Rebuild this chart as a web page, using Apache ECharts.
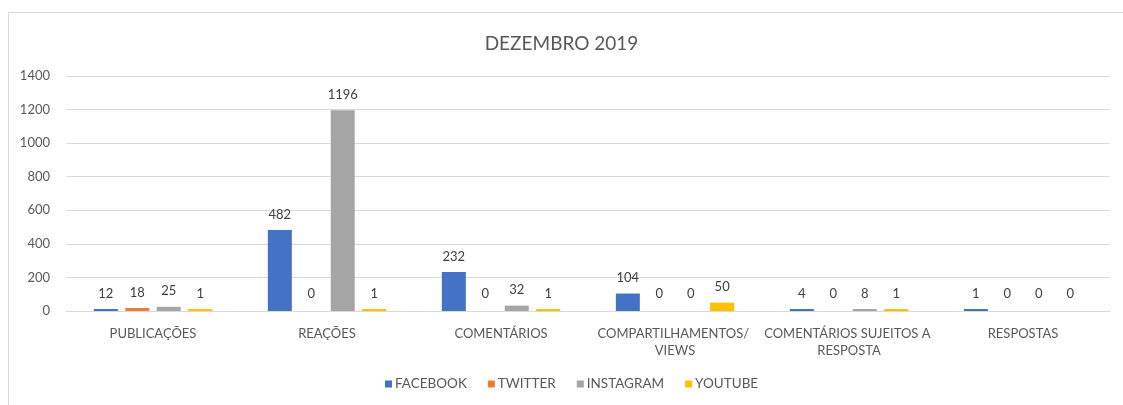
<!DOCTYPE html>
<html>
<head>
<meta charset="utf-8">
<script src="https://cdn.jsdelivr.net/npm/echarts@6/dist/echarts.min.js"></script>
<style>
html,body{margin:0;padding:0;background:#fff;}
#c{width:1123px;height:405px;}
</style>
</head>
<body>
<div id="c"></div>
<script>
const title = "DEZEMBRO 2019";
const categories = ["PUBLICAÇÕES", "REAÇÕES", "COMENTÁRIOS", "COMPARTILHAMENTOS/ VIEWS", "COMENTÁRIOS SUJEITOS A RESPOSTA", "RESPOSTAS"];
const seriesNames = ["FACEBOOK", "TWITTER", "INSTAGRAM", "YOUTUBE"];
const facebook = [12, 482, 232, 104, 4, 1];
const twitter = [18, 0, 0, 0, 0, 0];
const instagram = [25, 1196, 32, 0, 8, 0];
const youtube = [1, 1, 1, 50, 1, 0];
const colors = ["#4472C4", "#ED7D31", "#A5A5A5", "#FFC000"];
const yTicks = [0, 200, 400, 600, 800, 1000, 1200, 1400];

const FONT = "Lato";
const chart = echarts.init(document.getElementById('c'));
const allData = [facebook, twitter, instagram, youtube];

chart.setOption({
  animation: false,
  textStyle: {fontFamily: FONT},
  graphic: [{
    type: 'rect', silent: true, z: -1,
    shape: {x: 8.5, y: 12.5, width: 1130, height: 400},
    style: {fill: '#fff', stroke: '#d9d9d9', lineWidth: 1}
  }],
  title: {
    text: title, left: 'center', top: 29,
    textStyle: {fontFamily: FONT, fontSize: 19, fontWeight: 'normal', color: '#595959'}
  },
  legend: {
    bottom: 9, left: 380,
    itemWidth: 7, itemHeight: 7, itemGap: 21, icon: 'rect',
    textStyle: {fontFamily: FONT, fontSize: 13.5, color: '#595959', padding: [0,0,0,-2]},
    data: seriesNames
  },
  grid: {left: 66, right: 13, top: 76, bottom: 94},
  xAxis: {
    type: 'category', data: categories,
    axisLine: {lineStyle: {color: '#d9d9d9'}},
    axisTick: {show: false},
    axisLabel: {
      interval: 0, fontFamily: FONT, fontSize: 13, color: '#595959', margin: 14,
      width: 176, overflow: 'break', lineHeight: 17
    }
  },
  yAxis: {
    type: 'value', min: yTicks[0], max: yTicks[yTicks.length-1], interval: 200,
    axisLine: {show: false}, axisTick: {show: false},
    splitLine: {lineStyle: {color: '#d9d9d9'}},
    axisLabel: {fontFamily: FONT, fontSize: 13, color: '#595959', margin: 16, formatter: v => String(v)}
  },
  series: seriesNames.map((n, i) => ({
    name: n, type: 'bar',
    barWidth: 24, barGap: '31%',
    barMinHeight: 2,
    itemStyle: {color: colors[i]},
    data: allData[i].map(v => v === 0 ? {value: v, itemStyle: {color: 'rgba(0,0,0,0)'}} : {value: v}),
    label: {show: true, position: 'top', distance: 9, fontFamily: FONT, fontSize: 13, color: '#404040'}
  }))
});
</script>
</body>
</html>
